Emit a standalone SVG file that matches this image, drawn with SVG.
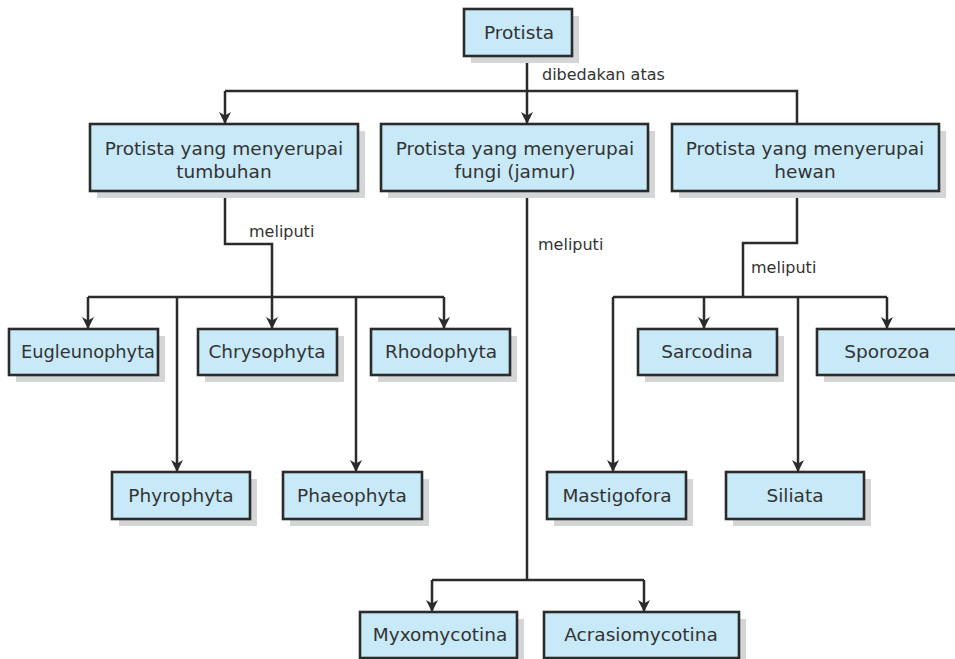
<svg xmlns="http://www.w3.org/2000/svg" width="955" height="659" viewBox="0 0 955 659">
  <style>
    .box { fill: #c7e9f8; stroke: #2b2b2b; stroke-width: 2.6; }
    .shadow { fill: #d3d5d6; }
    .t { font-family: "DejaVu Sans", "Liberation Sans", sans-serif; font-size: 18.5px; fill: #333; text-anchor: middle; }
    .lbl { font-family: "DejaVu Sans", "Liberation Sans", sans-serif; font-size: 16px; fill: #333; }
    .ln { fill: none; stroke: #2b2b2b; stroke-width: 2.5; }
    .arr { marker-end: url(#head); }
  </style>
  <defs>
    <marker id="head" viewBox="0 0 12 12" refX="12" refY="6" markerWidth="13" markerHeight="12" markerUnits="userSpaceOnUse" orient="auto">
      <path d="M0,0 L12,6 L0,12 L3.5,6 z" fill="#2b2b2b"/>
    </marker>
  </defs>
  <rect width="955" height="659" fill="#ffffff"/>

  <!-- connectors -->
  <g id="connectors">
    <line class="ln arr" x1="527" y1="56" x2="527" y2="124"/>
    <polyline class="ln" points="225,91 797,91 797,124"/>
    <line class="ln arr" x1="225" y1="91" x2="225" y2="124"/>
    <text class="lbl" x="542" y="80">dibedakan atas</text>

    <!-- tumbuhan branch -->
    <polyline class="ln" points="225,191 225,244 272,244 272,297"/>
    <text class="lbl" x="249" y="237">meliputi</text>
    <line class="ln" x1="88" y1="297" x2="444" y2="297"/>
    <line class="ln arr" x1="88" y1="297" x2="88" y2="329"/>
    <line class="ln arr" x1="272" y1="297" x2="272" y2="329"/>
    <line class="ln arr" x1="444" y1="297" x2="444" y2="329"/>
    <line class="ln arr" x1="177" y1="297" x2="177" y2="472"/>
    <line class="ln arr" x1="356" y1="297" x2="356" y2="472"/>

    <!-- fungi branch -->
    <line class="ln" x1="527" y1="191" x2="527" y2="580"/>
    <text class="lbl" x="538" y="250">meliputi</text>
    <line class="ln" x1="432" y1="580" x2="644" y2="580"/>
    <line class="ln arr" x1="432" y1="580" x2="432" y2="612"/>
    <line class="ln arr" x1="644" y1="580" x2="644" y2="612"/>

    <!-- hewan branch -->
    <polyline class="ln" points="797,191 797,243 743,243 743,297"/>
    <text class="lbl" x="751" y="273">meliputi</text>
    <line class="ln" x1="613" y1="297" x2="887" y2="297"/>
    <line class="ln arr" x1="704" y1="297" x2="704" y2="329"/>
    <line class="ln arr" x1="887" y1="297" x2="887" y2="329"/>
    <line class="ln arr" x1="613" y1="297" x2="613" y2="472"/>
    <line class="ln arr" x1="798" y1="297" x2="798" y2="472"/>
  </g>

  <!-- nodes -->
  <g id="protista">
    <rect class="shadow" x="471" y="16" width="108" height="47"/>
    <rect class="box" x="464" y="9" width="108" height="47"/>
    <text class="t" x="519" y="39">Protista</text>
  </g>

  <g id="tumbuhan">
    <rect class="shadow" x="97" y="131" width="268" height="67"/>
    <rect class="box" x="90" y="124" width="268" height="67"/>
    <text class="t" x="224" y="155">Protista yang menyerupai</text>
    <text class="t" x="224" y="178">tumbuhan</text>
  </g>

  <g id="fungi">
    <rect class="shadow" x="388" y="131" width="267" height="67"/>
    <rect class="box" x="381" y="124" width="267" height="67"/>
    <text class="t" x="515" y="155">Protista yang menyerupai</text>
    <text class="t" x="515" y="178">fungi (jamur)</text>
  </g>

  <g id="hewan">
    <rect class="shadow" x="679" y="131" width="267" height="67"/>
    <rect class="box" x="672" y="124" width="267" height="67"/>
    <text class="t" x="805" y="155">Protista yang menyerupai</text>
    <text class="t" x="805" y="178">hewan</text>
  </g>

  <g id="eugleunophyta">
    <rect class="shadow" x="16" y="336" width="149" height="46"/>
    <rect class="box" x="9" y="329" width="149" height="46"/>
    <text class="t" x="88" y="358" textLength="134" lengthAdjust="spacingAndGlyphs">Eugleunophyta</text>
  </g>

  <g id="chrysophyta">
    <rect class="shadow" x="205" y="336" width="139" height="46"/>
    <rect class="box" x="198" y="329" width="139" height="46"/>
    <text class="t" x="267" y="358">Chrysophyta</text>
  </g>

  <g id="rhodophyta">
    <rect class="shadow" x="378" y="336" width="139" height="46"/>
    <rect class="box" x="371" y="329" width="139" height="46"/>
    <text class="t" x="441" y="358">Rhodophyta</text>
  </g>

  <g id="phyrophyta">
    <rect class="shadow" x="119" y="479" width="138" height="47"/>
    <rect class="box" x="112" y="472" width="138" height="47"/>
    <text class="t" x="181" y="502">Phyrophyta</text>
  </g>

  <g id="phaeophyta">
    <rect class="shadow" x="290" y="479" width="139" height="47"/>
    <rect class="box" x="283" y="472" width="139" height="47"/>
    <text class="t" x="352" y="502">Phaeophyta</text>
  </g>

  <g id="sarcodina">
    <rect class="shadow" x="645" y="336" width="139" height="46"/>
    <rect class="box" x="638" y="329" width="139" height="46"/>
    <text class="t" x="707" y="358">Sarcodina</text>
  </g>

  <g id="sporozoa">
    <rect class="shadow" x="824" y="336" width="140" height="46"/>
    <rect class="box" x="817" y="329" width="140" height="46"/>
    <text class="t" x="887" y="358">Sporozoa</text>
  </g>

  <g id="mastigofora">
    <rect class="shadow" x="554" y="479" width="139" height="47"/>
    <rect class="box" x="547" y="472" width="139" height="47"/>
    <text class="t" x="617" y="502">Mastigofora</text>
  </g>

  <g id="siliata">
    <rect class="shadow" x="733" y="479" width="138" height="47"/>
    <rect class="box" x="726" y="472" width="138" height="47"/>
    <text class="t" x="795" y="502">Siliata</text>
  </g>

  <g id="myxomycotina">
    <rect class="shadow" x="367" y="619" width="157" height="46"/>
    <rect class="box" x="360" y="612" width="157" height="46"/>
    <text class="t" x="440" y="641">Myxomycotina</text>
  </g>

  <g id="acrasiomycotina">
    <rect class="shadow" x="551" y="619" width="195" height="46"/>
    <rect class="box" x="544" y="612" width="195" height="46"/>
    <text class="t" x="641" y="641">Acrasiomycotina</text>
  </g>
</svg>
